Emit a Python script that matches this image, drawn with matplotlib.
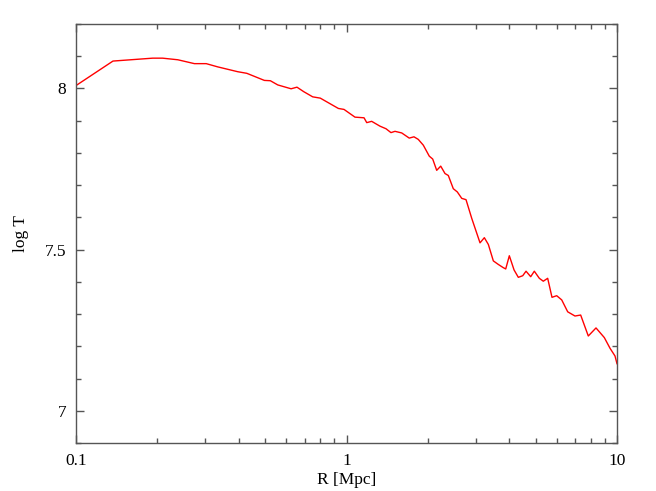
import matplotlib
matplotlib.use("Agg")
import matplotlib.pyplot as plt
from matplotlib.ticker import FixedLocator, MultipleLocator, NullFormatter

R = [0.100, 0.137, 0.192, 0.209, 0.238, 0.274, 0.303, 0.334, 0.396, 0.428,
     0.497, 0.523, 0.557, 0.624, 0.656, 0.695, 0.750, 0.800, 0.933, 0.979,
     1.075, 1.161, 1.188, 1.239, 1.330, 1.400, 1.460, 1.511, 1.600, 1.706,
     1.776, 1.842, 1.923, 2.023, 2.083, 2.155, 2.230, 2.313, 2.379, 2.482,
     2.568, 2.667, 2.766, 2.904, 3.116, 3.233, 3.345, 3.490, 3.641, 3.799,
     3.878, 3.999, 4.163, 4.317, 4.482, 4.610, 4.797, 4.947, 5.162, 5.340,
     5.543, 5.750, 5.985, 6.246, 6.573, 6.993, 7.340, 7.832, 8.364, 8.978,
     9.422, 9.831, 10.00]
logT = [8.009, 8.085, 8.094, 8.094, 8.089, 8.077, 8.077, 8.067, 8.052, 8.047,
        8.025, 8.024, 8.011, 7.999, 8.004, 7.990, 7.974, 7.970, 7.938, 7.935,
        7.911, 7.909, 7.894, 7.898, 7.883, 7.875, 7.863, 7.867, 7.862, 7.846,
        7.850, 7.842, 7.824, 7.790, 7.781, 7.746, 7.759, 7.736, 7.730, 7.689,
        7.679, 7.659, 7.655, 7.597, 7.521, 7.537, 7.516, 7.465, 7.454, 7.444,
        7.440, 7.481, 7.437, 7.414, 7.419, 7.433, 7.416, 7.433, 7.411, 7.402,
        7.411, 7.352, 7.357, 7.344, 7.307, 7.294, 7.297, 7.232, 7.257, 7.227,
        7.194, 7.170, 7.146]

xticks = [0.1, 1, 10]
xticklabels = ["0.1", "1", "10"]
yticks = [7, 7.5, 8]
yticklabels = ["7", "7.5", "8"]

plt.rcParams['font.family'] = ['Liberation Serif', 'DejaVu Serif']
fig = plt.figure(figsize=(6.56, 4.91), dpi=100)
ax = fig.add_axes([76/656, 48/491, (617-76)/656, (443-24)/491])
ax.plot(R, logT, color='#ff0000', lw=1.0)
ax.set_xscale('log')
ax.set_xlim(0.1, 10)
ax.set_ylim(6.9, 8.2)

ax.xaxis.set_major_locator(FixedLocator(xticks))
ax.set_xticklabels(xticklabels)
ax.xaxis.set_minor_locator(FixedLocator([k * 10.0**e for e in (-1, 0) for k in range(2, 10)]))
ax.xaxis.set_minor_formatter(NullFormatter())
ax.set_yticks(yticks)
ax.set_yticklabels(yticklabels)
ax.yaxis.set_minor_locator(MultipleLocator(0.1))

gray = '#555555'
for s in ax.spines.values():
    s.set_color(gray)
    s.set_linewidth(1.0)
ax.tick_params(which='both', direction='in', top=True, right=True, color=gray, labelsize=12.5, width=1.0)
ax.tick_params(which='major', length=6, pad=7)
ax.tick_params(which='minor', length=3.5)

ax.set_xlabel("R [Mpc]", fontsize=12.5, labelpad=2)
ax.set_ylabel("log T", fontsize=12.5, labelpad=11)

fig.savefig("out.png", dpi=100)
